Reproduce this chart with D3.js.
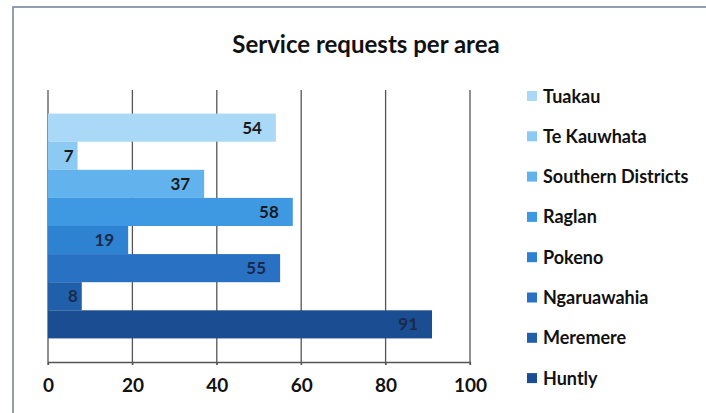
<!DOCTYPE html>
<html><head><meta charset="utf-8">
<script src="https://cdn.jsdelivr.net/npm/d3@7"></script>
<style>body{margin:0;background:#fff;}svg{display:block;}</style>
</head><body>
<svg id="c" width="706" height="413"></svg>
<script>
const areas = ["Tuakau","Te Kauwhata","Southern Districts","Raglan","Pokeno","Ngaruawahia","Meremere","Huntly"];
const requests = [54,7,37,58,19,55,8,91];
const colors = ["#a9d9f7","#8ccaf3","#62b2ee","#3f98e2","#2d82d2","#2971c2","#2060aa","#1b4d92"];
const ticks = [0,20,40,60,80,100];
const title = "Service requests per area";

const svg = d3.select("#c");
const font = "Lato, 'Open Sans', sans-serif";

// outer frame (top and left edges visible)
svg.append("rect").attr("x",13).attr("y",7).attr("width",720).attr("height",420)
  .attr("fill","none").attr("stroke","#6f7f95").attr("stroke-width",1.5);

const x = d3.scaleLinear().domain([0,100]).range([48,470]);
const y = d3.scaleBand().domain(areas).range([90,362]).paddingInner(0).paddingOuter(0.84);

// gridlines
svg.append("g").selectAll("line").data(ticks).join("line")
  .attr("x1",d=>x(d)).attr("x2",d=>x(d)).attr("y1",90).attr("y2",365)
  .attr("stroke","#555").attr("stroke-width",1.3);

// bars
svg.append("g").selectAll("rect").data(areas).join("rect")
  .attr("x",x(0)).attr("y",d=>y(d)).attr("width",(d,i)=>x(requests[i])-x(0))
  .attr("height",y.bandwidth()).attr("fill",(d,i)=>colors[i]);

// labels
svg.append("g").selectAll("text").data(areas).join("text")
  .attr("x",(d,i)=>x(requests[i]) - (requests[i] < 10 ? 4 : 14))
  .attr("y",d=>y(d)+y.bandwidth()/2+6)
  .attr("text-anchor","end").attr("font-family",font).attr("font-weight","bold")
  .attr("font-size",17).attr("fill",(d,i)=> i<4 ? "#1a1a1a" : "#1a2a4a")
  .text((d,i)=>requests[i]);

// x axis
const ax = svg.append("g").attr("transform","translate(0,362)")
  .call(d3.axisBottom(x).tickValues(ticks).tickSize(3).tickPadding(14));
ax.select(".domain").attr("stroke","#555").attr("stroke-width",1.3);
ax.selectAll(".tick line").attr("stroke","#555");
ax.selectAll("text").attr("font-family",font).attr("font-weight","bold").attr("font-size",19).attr("fill","#111");

// title
svg.append("text").attr("x",366).attr("y",53).attr("text-anchor","middle")
  .attr("font-family",font).attr("font-weight","bold").attr("font-size",24).attr("fill","#111")
  .text(title);

// legend
const lg = svg.append("g").selectAll("g").data(areas).join("g")
  .attr("transform",(d,i)=>`translate(527,${96 + i*40.3})`);
lg.append("rect").attr("x",0).attr("y",-5).attr("width",10).attr("height",10).attr("fill",(d,i)=>colors[i]);
lg.append("text").attr("x",16).attr("y",6.5).attr("font-family",font).attr("font-weight","bold")
  .attr("font-size",18).attr("fill","#111").text(d=>d);
</script>
</body></html>
